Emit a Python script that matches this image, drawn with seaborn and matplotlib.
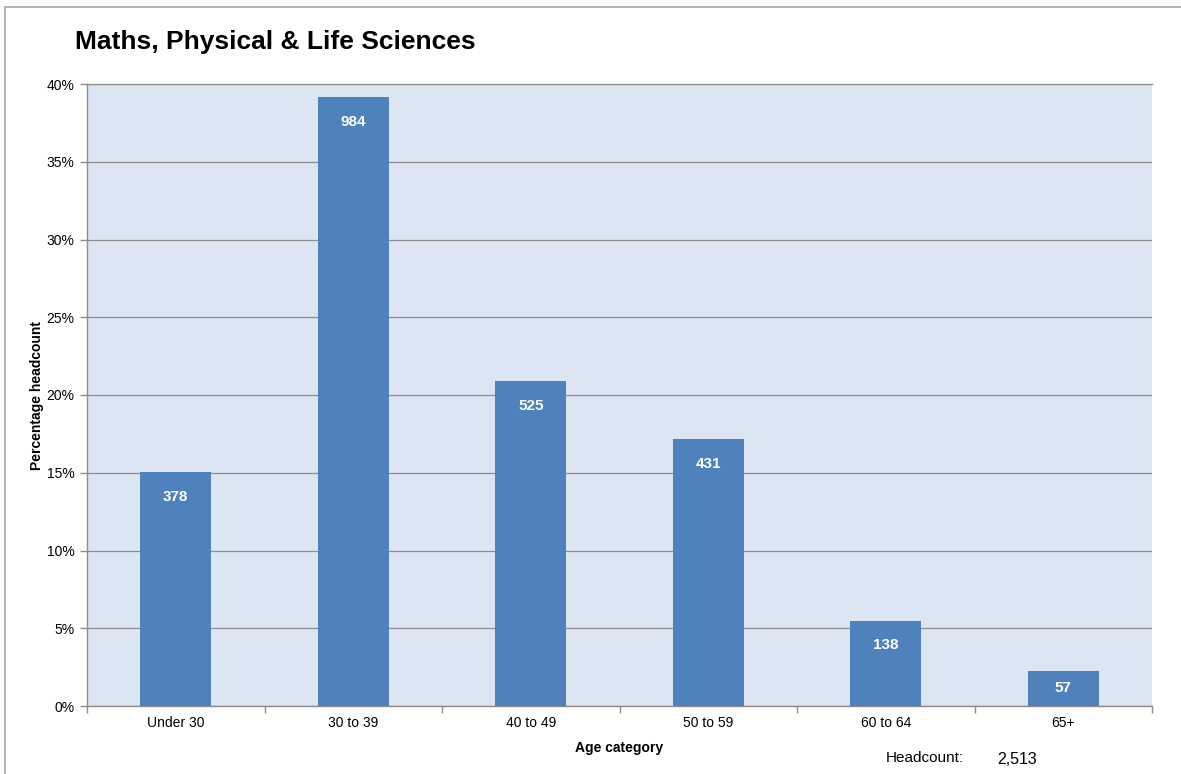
import matplotlib
matplotlib.use("Agg")
import matplotlib.pyplot as plt
import seaborn as sns
import pandas as pd
from matplotlib.ticker import PercentFormatter, MultipleLocator
from matplotlib.patches import Rectangle

categories = ["Under 30", "30 to 39", "40 to 49", "50 to 59", "60 to 64", "65+"]
counts = [378, 984, 525, 431, 138, 57]
total = 2513
percent = [c / total * 100 for c in counts]
title = "Maths, Physical & Life Sciences"

sns.set_theme(style="white")
plt.rcParams['font.family'] = ['Liberation Sans', 'DejaVu Sans']
plt.rcParams['text.color'] = 'black'
plt.rcParams['axes.labelcolor'] = 'black'

df = pd.DataFrame({"cat": categories, "pct": percent, "n": counts})

fig = plt.figure(figsize=(11.81, 7.74), dpi=100)
ax = fig.add_axes([87/1181, 1 - 706/774, (1152-87)/1181, (706-84)/774])
ax.set_facecolor("#dce6f2")

sns.barplot(data=df, x="cat", y="pct", color="#4f81bd", saturation=1, width=0.4, ax=ax,
            zorder=3, linewidth=0, edgecolor="none")

ax.set_ylim(0, 40)
ax.set_xlim(-0.5, 5.5)
ax.yaxis.set_major_locator(MultipleLocator(5))
ax.yaxis.set_major_formatter(PercentFormatter(decimals=0))
ax.grid(axis="y", color="#8c8c8c", linewidth=0.9, zorder=0)
ax.set_axisbelow(True)

ax.spines["right"].set_visible(False)
ax.spines["top"].set_color("#8c8c8c")
ax.spines["top"].set_linewidth(0.9)
for s in ["left", "bottom"]:
    ax.spines[s].set_color("#8c8c8c")
    ax.spines[s].set_linewidth(1.0)

ax.tick_params(axis="y", which="major", left=True, length=5, width=1, color="#8c8c8c",
               labelsize=10, labelcolor="black", pad=4)
ax.tick_params(axis="x", which="major", bottom=False, labelsize=10, labelcolor="black", pad=1)
ax.set_xticks([i + 0.5 for i in range(-1, 6)], minor=True)
ax.tick_params(axis="x", which="minor", bottom=True, length=5, width=1, color="#8c8c8c")

ax.set_xlabel("Age category", fontsize=10, fontweight="bold", labelpad=8)
ax.set_ylabel("Percentage headcount", fontsize=10, fontweight="bold", labelpad=2)

for i, (p, n) in enumerate(zip(percent, counts)):
    ypos = max(p - 1.6, p / 2)
    ax.annotate(f"{n}", xy=(i, ypos), ha="center", va="center", color="white",
                fontsize=11, fontweight="bold", zorder=5)

fig.text(75/1181, 1 - 42/774, title, fontsize=19, fontweight="bold", ha="left", va="center",
         color="black")
fig.text(886/1181, 1 - 758/774, "Headcount:", fontsize=11, ha="left", va="center", color="black")
fig.text(997/1181, 1 - 759/774, f"{total:,}", fontsize=11.5, ha="left", va="center", color="black")

fig.patches.append(Rectangle((5/1181, -0.1), 1.2, 1 - 7/774 + 0.1, transform=fig.transFigure,
                             fill=False, edgecolor="#a6a6a6", linewidth=1.2, zorder=0))

fig.savefig("out.png", dpi=100)
